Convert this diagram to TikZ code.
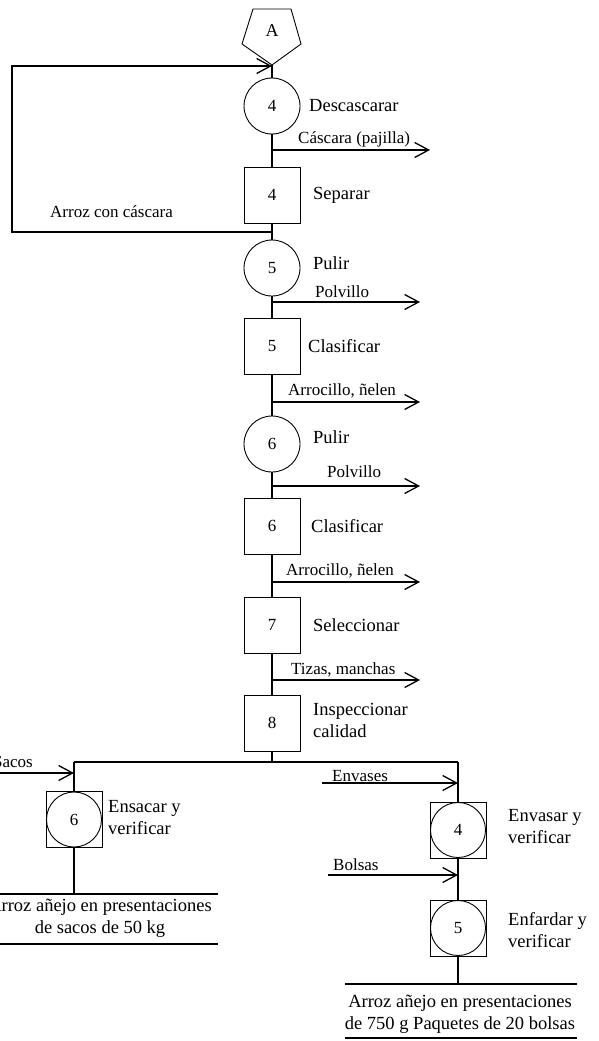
\documentclass[tikz,border=0pt]{standalone}
\usepackage{fontspec}
\setmainfont{Liberation Serif}
\usetikzlibrary{arrows.meta}
\begin{document}
\begin{tikzpicture}[x=1pt,y=-1pt,
 conn/.style={line width=1.4pt},
 arr/.style={line width=1.4pt,-{Straight Barb[length=14pt,width=15pt,line width=1.3pt]}},
 opcirc/.style={circle,draw,line width=0.9pt,minimum size=56pt,inner sep=0pt,font=\fontsize{17}{17}\selectfont},
 opsq/.style={rectangle,draw,line width=0.9pt,minimum size=56pt,inner sep=0pt,font=\fontsize{17}{17}\selectfont},
 incirc/.style={circle,draw,line width=0.9pt,minimum size=55pt,inner sep=0pt,font=\fontsize{17}{17}\selectfont},
 lbl/.style={anchor=west,inner sep=0pt,font=\fontsize{18.5}{22}\selectfont,align=left},
 albl/.style={anchor=west,inner sep=0pt,font=\fontsize{17}{20}\selectfont},
 outlbl/.style={inner sep=0pt,font=\fontsize{18.5}{22}\selectfont,align=center},
 outline/.style={line width=1.2pt},
]
\useasboundingbox (0,0) rectangle (598,1041);

% connector A
\draw[line width=0.9pt] (253,9) -- (291,9) -- (301,44) -- (272,65) -- (242,44) -- cycle;
\node[inner sep=0pt,font=\fontsize{18}{18}\selectfont] (A) at (272,31) {A};
\coordinate (pb) at (272,65);

% main chain
\node[opcirc] (c4) at (272,106) {4};
\node[opsq] (s4) at (272,195) {4};
\node[opcirc] (c5) at (272,268) {5};
\node[opsq] (s5) at (272,346) {5};
\node[opcirc] (c6) at (272,444) {6};
\node[opsq] (s6) at (272,526) {6};
\node[opsq] (s7) at (272,625) {7};
\node[opsq] (s8) at (272,723) {8};

% labels
\node[lbl] (l1) at (309,106) {Descascarar};
\node[lbl] (l2) at (313,195) {Separar};
\node[lbl] (l3) at (313,263) {Pulir};
\node[lbl] (l4) at (308,346) {Clasificar};
\node[lbl] (l5) at (313,437) {Pulir};
\node[lbl] (l6) at (311,526) {Clasificar};
\node[lbl] (l7) at (313,625) {Seleccionar};
\node[lbl] (l8) at (313,720) {Inspeccionar\\calidad};

% vertical connectors
\draw[conn] (pb) -- (c4.north);
\draw[conn] (c4.south) -- (s4.north);
\draw[conn] (s4.south) -- (c5.north);
\draw[conn] (c5.south) -- (s5.north);
\draw[conn] (s5.south) -- (c6.north);
\draw[conn] (c6.south) -- (s6.north);
\draw[conn] (s6.south) -- (s7.north);
\draw[conn] (s7.south) -- (s8.north);

% feedback loop
\coordinate (j0) at (272,66);
\coordinate (j1) at (272,232);
\coordinate (L1) at (12,232);
\coordinate (L2) at (12,66);
\draw[arr] (j1) -- (L1) -- (L2) -- (j0);
\node[albl] (lr) at (50,212) {Arroz con cáscara};

% side outputs
\coordinate (b1) at (272,150); \coordinate (e1) at (430,150);
\coordinate (b2) at (272,302); \coordinate (e2) at (420,302);
\coordinate (b3) at (272,402); \coordinate (e3) at (420,402);
\coordinate (b4) at (272,486); \coordinate (e4) at (420,486);
\coordinate (b5) at (272,582); \coordinate (e5) at (420,582);
\coordinate (b6) at (272,680); \coordinate (e6) at (420,680);
\draw[arr] (b1) -- (e1);
\draw[arr] (b2) -- (e2);
\draw[arr] (b3) -- (e3);
\draw[arr] (b4) -- (e4);
\draw[arr] (b5) -- (e5);
\draw[arr] (b6) -- (e6);
\node[albl] (a1) at (298,139) {Cáscara (pajilla)};
\node[albl] (a2) at (315,292) {Polvillo};
\node[albl] (a3) at (288,391) {Arrocillo, ñelen};
\node[albl] (a4) at (327,472) {Polvillo};
\node[albl] (a5) at (286,571) {Arrocillo, ñelen};
\node[albl] (a6) at (291,670) {Tizas, manchas};

% split bar
\coordinate (jb) at (272,762);
\coordinate (bl) at (74,762);
\coordinate (br) at (458,762);
\draw[conn] (s8.south) -- (jb);
\draw[conn] (bl) -- (br);

% left branch
\node[opsq] (q6) at (74,819.5) {};
\node[incirc] (k6) at (74,819.5) {6};
\node[lbl] (l9) at (108,818) {Ensacar y\\verificar};
\draw[conn] (bl) -- (q6.north);
\coordinate (sx) at (-5,773);
\coordinate (sy) at (74,773);
\draw[arr] (sx) -- (sy);
\node[albl,anchor=east] (ls) at (33,762) {Sacos};
\coordinate (lo) at (74,894);
\draw[conn] (q6.south) -- (lo);
\coordinate (o1a) at (0,894); \coordinate (o1b) at (218,894);
\coordinate (o2a) at (0,944); \coordinate (o2b) at (218,944);
\draw[outline] (o1a) -- (o1b);
\draw[outline] (o2a) -- (o2b);
\node[outlbl] (t1) at (100,918) {Arroz añejo en presentaciones\\de sacos de 50 kg};

% right branch
\node[opsq] (q4) at (458,830) {};
\node[incirc] (k4) at (458,830) {4};
\node[lbl] (l10) at (508,827) {Envasar y\\verificar};
\node[opsq] (q5) at (458,928) {};
\node[incirc] (k5) at (458,928) {5};
\node[lbl] (l11) at (508,930) {Enfardar y\\verificar};
\draw[conn] (br) -- (q4.north);
\draw[conn] (q4.south) -- (q5.north);
\coordinate (ea) at (322,783); \coordinate (eb) at (458,783);
\draw[arr] (ea) -- (eb);
\node[albl] (le) at (332,776) {Envases};
\coordinate (ba) at (328,875); \coordinate (bb) at (458,875);
\draw[arr] (ba) -- (bb);
\node[albl] (lb) at (333,865) {Bolsas};
\coordinate (ro) at (458,984);
\draw[conn] (q5.south) -- (ro);
\coordinate (o3a) at (345,984); \coordinate (o3b) at (577,984);
\coordinate (o4a) at (345,1038); \coordinate (o4b) at (577,1038);
\draw[outline] (o3a) -- (o3b);
\draw[outline] (o4a) -- (o4b);
\node[outlbl] (t2) at (460,1014) {Arroz añejo en presentaciones\\de 750 g Paquetes de 20 bolsas};
\end{tikzpicture}
\end{document}
